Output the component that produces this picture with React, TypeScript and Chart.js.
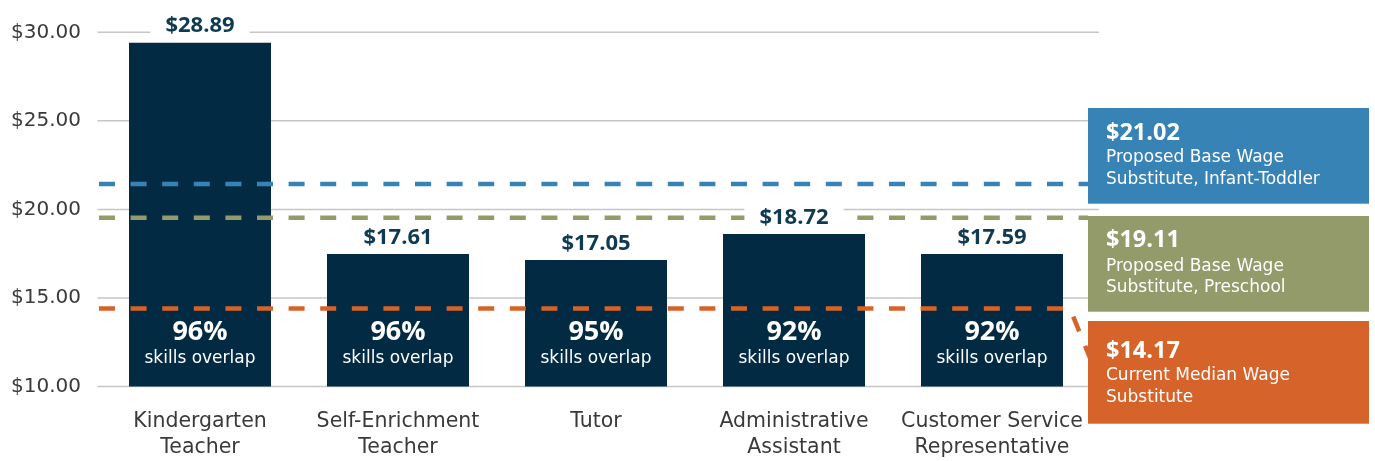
import React, { useEffect, useRef } from "react";
import { Chart, registerables } from "chart.js";

Chart.register(...registerables);

// ---- data ----
const categories: (string | string[])[] = [
  ["Kindergarten", "Teacher"],
  ["Self-Enrichment", "Teacher"],
  "Tutor",
  ["Administrative", "Assistant"],
  ["Customer Service", "Representative"],
];
const barHeights = [29.41, 17.48, 17.14, 18.61, 17.48];
const wageLabels = ["$28.89", "$17.61", "$17.05", "$18.72", "$17.59"];
const overlapLabels = ["96%", "96%", "95%", "92%", "92%"];
const overlapCaption = "skills overlap";
const yTicks = [10, 15, 20, 25, 30];

const refValues = [21.44, 19.53, 14.4];
const refWages = ["$21.02", "$19.11", "$14.17"];
const refTitles = [
  ["Proposed Base Wage", "Substitute, Infant-Toddler"],
  ["Proposed Base Wage", "Substitute, Preschool"],
  ["Current Median Wage", "Substitute"],
];
const refColors = ["#3883B6", "#939B6B", "#D6642A"];

// ---- styles ----
const BAR_COLOR = "#022B43";
const LABEL_COLOR = "#0E3A52";
const AXIS_TEXT = "#3a3a3a";
const REG_FONT = "'DejaVu Sans'";
const BOLD_FONT = "'Open Sans'";

const boxLayout = [
  { top: 108, h: 95.7, off: [31.5, 54, 75.5] },
  { top: 216, h: 95.7, off: [31, 55, 75.5] },
  { top: 321, h: 102.7, off: [37, 59, 80.7] },
];

const overlayPlugin = {
  id: "overlay",
  beforeDatasetsDraw(chart: any) {
    const { ctx } = chart;
    const y = chart.scales.y;
    ctx.save();
    ctx.strokeStyle = "#c6c6c6";
    ctx.lineWidth = 1.5;
    for (const t of yTicks) {
      const py = y.getPixelForValue(t);
      ctx.beginPath();
      ctx.moveTo(97.5, py);
      ctx.lineTo(1099, py);
      ctx.stroke();
    }
    ctx.restore();
  },
  afterDatasetsDraw(chart: any) {
    const { ctx } = chart;
    const y = chart.scales.y;

    // reference dashed lines
    ctx.save();
    ctx.setLineDash([16, 15.6]);
    ctx.lineWidth = 4.5;
    refValues.forEach((v, i) => {
      const py = y.getPixelForValue(v);
      ctx.strokeStyle = refColors[i];
      ctx.beginPath();
      ctx.moveTo(99, py);
      if (i === 2) {
        ctx.lineTo(1070, py);
        ctx.lineTo(1090, 358);
      } else {
        ctx.lineTo(1088, py);
      }
      ctx.stroke();
    });
    ctx.restore();

    // bar labels
    const meta = chart.getDatasetMeta(0);
    ctx.save();
    ctx.textAlign = "center";
    ctx.textBaseline = "alphabetic";
    meta.data.forEach((bar: any, i: number) => {
      const cx = bar.x;
      const base = bar.y - 10.5;
      ctx.font = `bold 22px ${BOLD_FONT}`;
      const w = ctx.measureText(wageLabels[i]).width;
      ctx.fillStyle = "#ffffff";
      ctx.fillRect(cx - w / 2 - 15, base - 21, w + 30, 25);
      ctx.fillStyle = LABEL_COLOR;
      ctx.fillText(wageLabels[i], cx, base);

      ctx.fillStyle = "#ffffff";
      ctx.font = `bold 27px ${BOLD_FONT}`;
      ctx.fillText(overlapLabels[i], cx, y.bottom - 46.5);
      ctx.font = `17px ${REG_FONT}`;
      ctx.fillText(overlapCaption, cx, y.bottom - 23.2);
    });
    ctx.restore();

    // legend boxes on the right
    ctx.save();
    ctx.textAlign = "left";
    ctx.textBaseline = "alphabetic";
    boxLayout.forEach((b, i) => {
      ctx.fillStyle = refColors[i];
      ctx.fillRect(1088, b.top, 281, b.h);
      ctx.fillStyle = "#ffffff";
      ctx.font = `bold 23.5px ${BOLD_FONT}`;
      ctx.fillText(refWages[i], 1106, b.top + b.off[0]);
      ctx.font = `17px ${REG_FONT}`;
      ctx.fillText(refTitles[i][0], 1106, b.top + b.off[1]);
      ctx.fillText(refTitles[i][1], 1106, b.top + b.off[2]);
    });
    ctx.restore();
  },
};

export default function App() {
  const canvasRef = useRef<HTMLCanvasElement | null>(null);

  useEffect(() => {
    const canvas = canvasRef.current;
    if (!canvas) return;
    const chart = new Chart(canvas, {
      type: "bar",
      data: {
        labels: categories as any,
        datasets: [
          {
            data: barHeights,
            backgroundColor: BAR_COLOR,
            borderWidth: 0,
            barPercentage: 142 / 198,
            categoryPercentage: 1,
          },
        ],
      },
      options: {
        responsive: false,
        maintainAspectRatio: false,
        animation: false,
        layout: { padding: { top: 32.3, right: 284, bottom: 0, left: 0 } },
        plugins: {
          legend: { display: false },
          tooltip: { enabled: false },
        },
        scales: {
          x: {
            grid: { display: false, drawTicks: false },
            border: { display: false },
            ticks: {
              color: AXIS_TEXT,
              font: { family: REG_FONT, size: 20.5, lineHeight: 1.3 },
              padding: 21.5,
              maxRotation: 0,
              autoSkip: false,
            },
            afterFit: (s: any) => {
              s.height = 74.5;
            },
          },
          y: {
            min: 10,
            max: 30,
            grid: { display: false, drawTicks: false },
            border: { display: false },
            ticks: {
              stepSize: 5,
              padding: 20,
              color: AXIS_TEXT,
              font: { family: REG_FONT, size: 20 },
              callback: (v: any) => "$" + Number(v).toFixed(2),
            },
            afterFit: (s: any) => {
              s.width = 101;
            },
          },
        },
      },
      plugins: [overlayPlugin],
    });
    return () => chart.destroy();
  }, []);

  return (
    <div style={{ position: "absolute", left: 0, top: 0, width: 1375, height: 461, background: "#fff" }}>
      <canvas ref={canvasRef} width={1375} height={461} style={{ width: 1375, height: 461, display: "block" }} />
    </div>
  );
}
